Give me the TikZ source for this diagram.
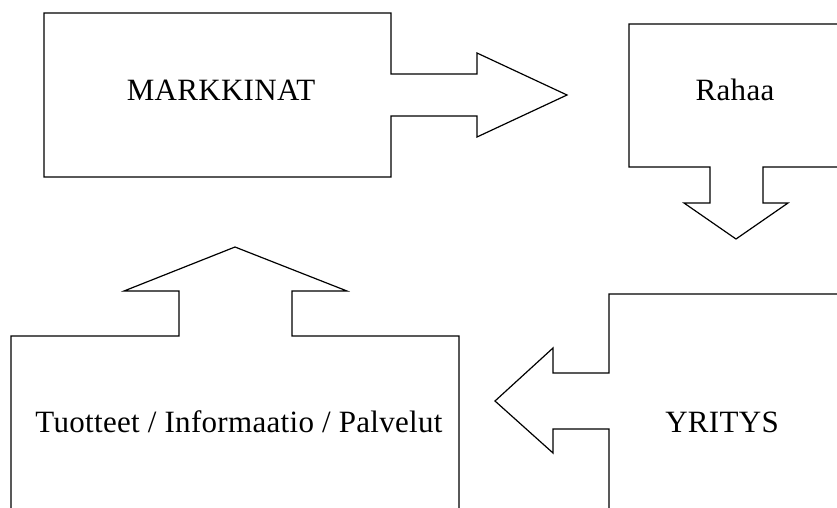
\documentclass[tikz,border=0pt]{standalone}
\usepackage{fontspec}
\setmainfont{Liberation Serif}[LetterSpace=1]
\begin{document}
\begin{tikzpicture}[x=1pt,y=-1pt,
  callout/.style={draw=black,line width=1.2pt,line join=miter,fill=white},
  label/.style={anchor=base,inner sep=0pt,font=\fontsize{31}{37}\selectfont}]
\useasboundingbox (0,0) rectangle (837,507);
\clip (0,0) rectangle (837,507);

% MARKKINAT box with arrow to the right
\draw[callout] (44,13) -- (391,13) -- (391,74) -- (477,74) -- (477,53)
  -- (567,95) -- (477,137) -- (477,116) -- (391,116) -- (391,177)
  -- (44,177) -- cycle;
\node[label] (markkinat) at (221,100) {MARKKINAT};

% Rahaa box with arrow downwards
\draw[callout] (629,24) -- (860,24) -- (860,167) -- (763,167) -- (763,203)
  -- (788,203) -- (736,239) -- (684,203) -- (710,203) -- (710,167)
  -- (629,167) -- cycle;
\node[label] (rahaa) at (735,100) {Rahaa};

% YRITYS box with arrow to the left
\draw[callout] (609,294) -- (860,294) -- (860,530) -- (609,530) -- (609,429)
  -- (553,429) -- (553,453) -- (495,401) -- (553,348) -- (553,373)
  -- (609,373) -- cycle;
\node[label] (yritys) at (722,432) {YRITYS};

% Tuotteet box with arrow upwards
\draw[callout] (11,336) -- (179,336) -- (179,291) -- (124,291) -- (235,247)
  -- (347,291) -- (292,291) -- (292,336) -- (459,336) -- (459,530)
  -- (11,530) -- cycle;
\node[label] (tuotteet) at (239,432) {Tuotteet / Informaatio / Palvelut};
\end{tikzpicture}
\end{document}
